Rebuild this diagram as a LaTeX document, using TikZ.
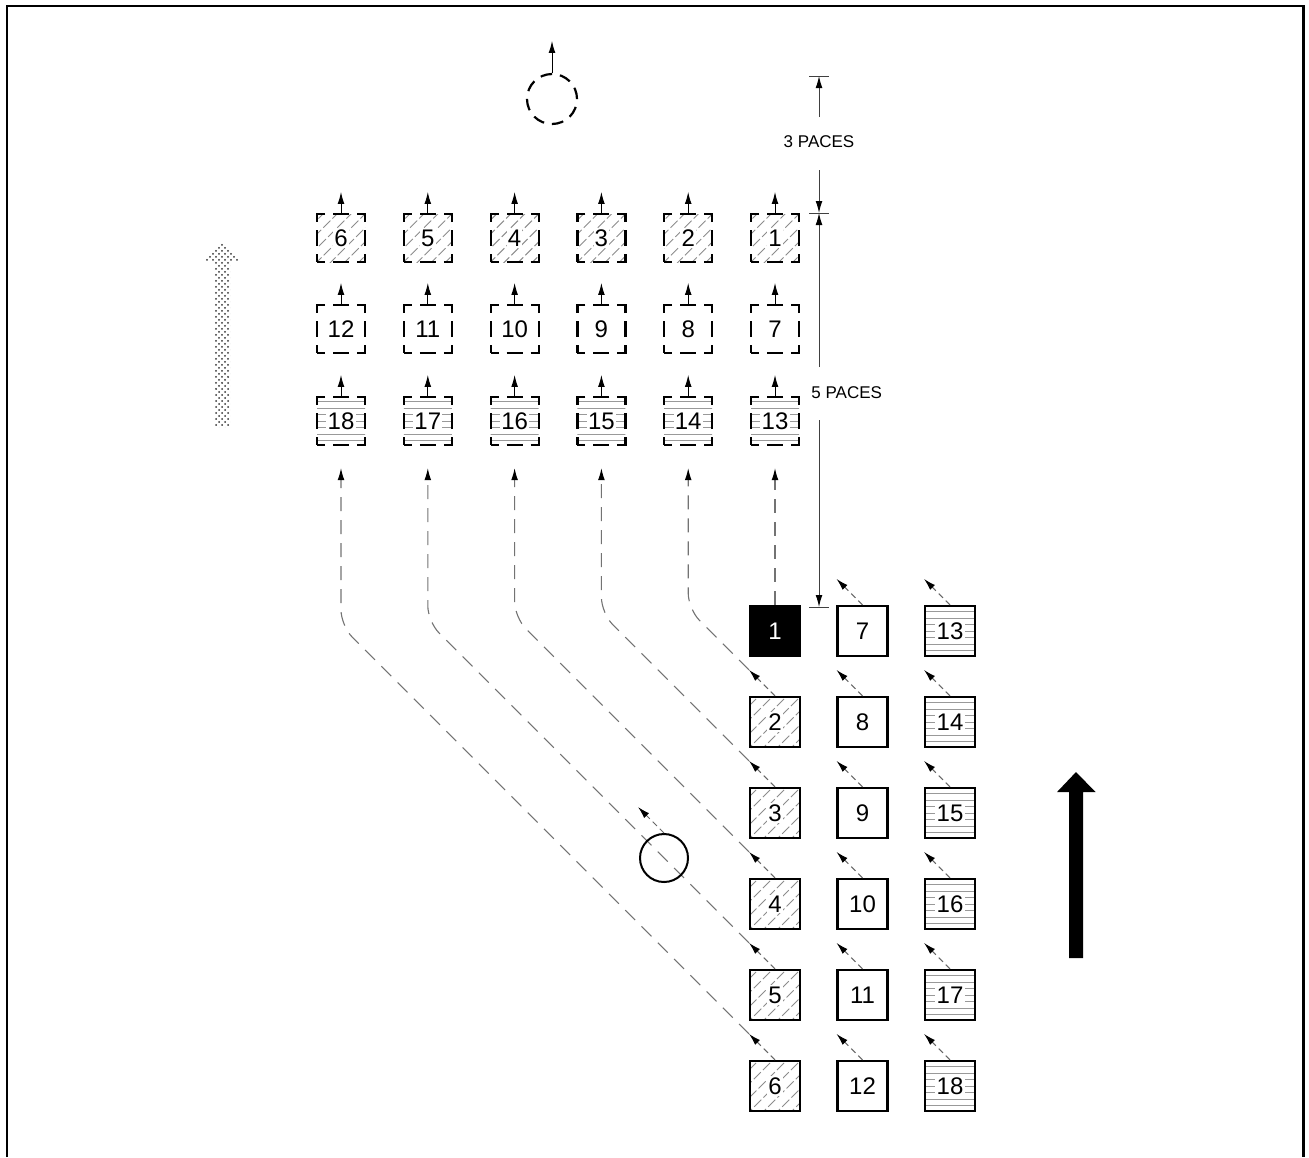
\documentclass[tikz,border=0pt]{standalone}
\usepackage{fontspec}
\newfontfamily\arialf{Liberation Sans}
\usetikzlibrary{arrows.meta,calc,patterns}
\setlength{\fboxsep}{0.6pt}
\begin{document}
\begin{tikzpicture}[x=0.5pt,y=-0.5pt,
  num/.style={font=\arialf\fontsize{12pt}{14pt}\selectfont},
  sq/.style={draw, line width=1.1pt, minimum size=25pt, inner sep=0pt, num},
  dsq/.style={sq, minimum size=24pt, dash pattern=on 8pt off 4pt on 8pt off 4pt, dash phase=4pt},
  hatch/.style={path picture={\foreach \hh in {-28,-21,...,30} \draw[black!45,line width=0.45pt,dash pattern=on 5pt off 1.5pt] ([shift={({(\hh-15)*1pt},-15pt)}]path picture bounding box.center) -- ++(30pt,30pt);}},
  hlines/.style={path picture={\foreach \hh in {-9.75,-6.5,...,10} \draw[solid,black!40,line width=0.45pt] ([shift={(-15pt,{\hh*1pt})}]path picture bounding box.center) -- ++(30pt,0pt);}},
  paces/.style={font=\arialf\fontsize{8.5pt}{10pt}\selectfont, inner sep=0pt},
  lpath/.style={draw=black!55, line width=0.55pt, dash pattern=on 7pt off 4.5pt, -{Latex[length=6pt,width=3.4pt,color=black]}},
  sarr/.style={draw=black!60, line width=0.5pt, dash pattern=on 3pt off 2pt, -{Latex[length=6pt,width=3.4pt,color=black]}},
  tarr/.style={draw=black, line width=0.5pt, -{Latex[length=6pt,width=3.4pt]}},
  dim/.style={draw=black!75, line width=0.5pt},
  dimarr/.style={dim, -{Latex[length=6pt,width=3.4pt,color=black]}},
  dcirc/.style={circle, draw, line width=1.1pt, minimum size=25pt, inner sep=0pt, dash pattern=on 5.8pt off 4pt},
  circ/.style={circle, draw, line width=1pt, minimum size=24pt, inner sep=0pt}
]
\useasboundingbox (0,0) rectangle (1309,1157);
% frame
\draw[line width=1.35pt] (7,1157) -- (7,6) -- (1303.5,6) -- (1303.5,1157);

% top formation
\foreach \n in {1,...,6} {
  \pgfmathsetmacro\xx{341+86.8*(6-\n)}
  \node[dsq,hatch] (t\n) at (\xx,238) {\colorbox{white}{\n}};
}
\foreach \n in {7,...,12} {
  \pgfmathsetmacro\xx{341+86.8*(12-\n)}
  \node[dsq] (t\n) at (\xx,329) {\n};
}
\foreach \n in {13,...,18} {
  \pgfmathsetmacro\xx{341+86.8*(18-\n)}
  \node[dsq,hlines] (t\n) at (\xx,421) {\colorbox{white}{\n}};
}
\foreach \n in {1,...,18} {
  \coordinate (tt\n) at ($(t\n.north)+(0,-21)$);
  \draw[tarr] (t\n.north) -- (tt\n);
}

% bottom formation
\node[sq,fill=black,text=white] (b1) at (775,631) {1};
\foreach \n in {2,...,6} \node[sq,hatch] (b\n) at (775,{631+91*(\n-1)}) {\colorbox{white}{\n}};
\foreach \n in {7,...,12} \node[sq] (b\n) at (862.5,{631+91*(\n-7)}) {\n};
\foreach \n in {13,...,18} \node[sq,hlines] (b\n) at (950,{631+91*(\n-13)}) {\colorbox{white}{\n}};

\foreach \n in {2,...,18} {
  \coordinate (a\n) at ($(b\n.north)+(-26,-26)$);
  \draw[sarr] (b\n.north) -- (a\n);
}

% movement paths
\coordinate (e13) at ($(t13.south)+(0,22)$);
\draw[lpath] (b1.north) -- (e13);
\foreach \k/\m in {2/14,3/15,4/16,5/17,6/18} {
  \coordinate (e\m) at ($(t\m.south)+(0,22)$);
  \coordinate (k\k) at ($(b\k.north)+({-86.8*(\k-1)},{-86.8*(\k-1)})$);
  \draw[lpath, rounded corners=8pt] (a\k) -- (k\k) -- (e\m);
}

% circles
\node[dcirc] (c1) at (552,99) {};
\coordinate (c1t) at ($(c1.north)+(0,-32)$);
\draw[tarr] (c1.north) -- (c1t);
\node[circ] (c2) at (664,858) {};
\coordinate (c2t) at ($(c2.north)+(-26,-26)$);
\draw[sarr] (c2.north) -- (c2t);

% dimensions
\coordinate (d1) at (819,76);
\coordinate (d2) at (819,213);
\coordinate (d3) at (819,607);
\coordinate (g1) at (819,117);
\coordinate (g2) at (819,170);
\coordinate (g3) at (819,367);
\coordinate (g4) at (819,420);
\node[paces] (p3) at (819,142) {3 PACES};
\node[paces, anchor=west] (p5) at (811,393) {5 PACES};
\draw[dimarr] (g1) -- (d1);
\draw[dimarr] (g2) -- (d2);
\draw[dimarr] (g3) -- (d2);
\draw[dimarr] (g4) -- (d3);
\draw[dim] ($(d1)+(-10,0)$) -- ($(d1)+(10,0)$);
\draw[dim] ($(d2)+(-10,0)$) -- ($(d2)+(10,0)$);
\draw[dim] ($(d3)+(-10,0)$) -- ($(d3)+(10,0)$);

% big direction arrows
\fill[black] (1069,958) -- (1069,792) -- (1057,792) -- (1076,772) -- (1095.5,792) -- (1083,792) -- (1083,958) -- cycle;
\fill[pattern=crosshatch dots, pattern color=black!80] (215,427) -- (215,261) -- (203,261) -- (222,242) -- (240,261) -- (230,261) -- (230,427) -- cycle;
\end{tikzpicture}
\end{document}
